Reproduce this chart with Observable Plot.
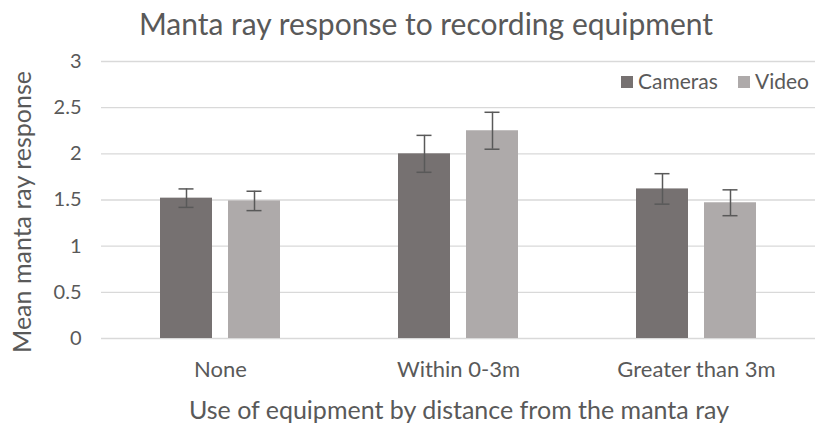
<!DOCTYPE html>
<html>
<head>
<meta charset="utf-8">
<script src="https://cdn.jsdelivr.net/npm/d3@7"></script>
<script src="https://cdn.jsdelivr.net/npm/@observablehq/plot@0.6"></script>
<style>
  html, body { margin: 0; padding: 0; background: #fff; }
  #chart { width: 816px; height: 423px; }
  svg { font-family: Lato, "Open Sans", sans-serif; }
</style>
</head>
<body>
<div id="chart"></div>
<script>
const categories = ["None", "Within 0-3m", "Greater than 3m"];
const series = ["Cameras", "Video"];
const camerasMean = [1.52, 2.00, 1.62];
const camerasErr = [0.10, 0.20, 0.165];
const videoMean = [1.49, 2.25, 1.47];
const videoErr = [0.105, 0.20, 0.14];
const yTicks = [0, 0.5, 1, 1.5, 2, 2.5, 3];
const title = "Manta ray response to recording equipment";
const xTitle = "Use of equipment by distance from the manta ray";
const yTitle = "Mean manta ray response";
const colors = ["#767171", "#AEAAAA"];

const data = [];
categories.forEach((c, i) => {
  data.push({category: c, series: "Cameras", value: camerasMean[i], err: camerasErr[i]});
  data.push({category: c, series: "Video", value: videoMean[i], err: videoErr[i]});
});

const W = 816, H = 423;
const mTop = 61, mBottom = 85, mLeft = 100, mRight = 0;

const chart = Plot.plot({
  width: W,
  height: H,
  marginTop: mTop,
  marginBottom: mBottom,
  marginLeft: mLeft,
  marginRight: mRight,
  style: {background: "#fff", color: "#595959"},
  fx: {domain: categories, padding: 0, label: null, tickSize: 0, tickPadding: 10},
  x: {domain: series, paddingInner: 0.23, paddingOuter: 0.85, axis: null},
  y: {domain: [0, 3], ticks: yTicks, tickSize: 0, tickPadding: 20, label: null,
      tickFormat: d => String(d)},
  color: {domain: series, range: colors},
  marks: [
    Plot.ruleY(yTicks, {y: d => d, stroke: "#D9D9D9", strokeWidth: 1.3}),
    Plot.barY(data, {fx: "category", x: "series", y: "value", fill: "series"}),
    Plot.ruleX(data, {fx: "category", x: "series", y1: d => d.value - d.err, y2: d => d.value + d.err,
      stroke: "#595959", strokeWidth: 1.5}),
    Plot.tickY(data, {fx: "category", x: "series", y: d => d.value - d.err, stroke: "#595959",
      strokeWidth: 1.5, insetLeft: 18.5, insetRight: 18.5}),
    Plot.tickY(data, {fx: "category", x: "series", y: d => d.value + d.err, stroke: "#595959",
      strokeWidth: 1.5, insetLeft: 18.5, insetRight: 18.5})
  ]
});

document.getElementById("chart").appendChild(chart);

const svg = d3.select(chart);

svg.selectAll("text").each(function() {
  const t = d3.select(this);
  const s = this.textContent;
  if (categories.includes(s)) {
    t.style("font-size", "22px").style("fill", "#595959");
    t.attr("y", null).attr("dy", null);
  } else if (yTicks.map(String).includes(s)) {
    t.style("font-size", "20px").style("fill", "#595959");
  }
});
svg.selectAll("text").filter(function() { return categories.includes(this.textContent); })
  .each(function() {
    const curBaseline = this.getCTM().f;
    d3.select(this).attr("y", 377 - curBaseline);
  });

svg.append("text")
  .attr("x", 426).attr("y", 35)
  .attr("text-anchor", "middle")
  .style("font-size", "30px").style("fill", "#595959")
  .text(title);
svg.append("text")
  .attr("x", 459).attr("y", 419)
  .attr("text-anchor", "middle")
  .style("font-size", "25px").style("fill", "#595959")
  .text(xTitle);
svg.append("text")
  .attr("transform", "translate(31,212) rotate(-90)")
  .attr("text-anchor", "middle")
  .style("font-size", "25px").style("fill", "#595959")
  .text(yTitle);

const legendX = [621, 738];
series.forEach((s, i) => {
  svg.append("rect").attr("x", legendX[i]).attr("y", 76).attr("width", 12).attr("height", 12)
    .attr("fill", colors[i]);
  svg.append("text").attr("x", legendX[i] + 17).attr("y", 89)
    .attr("text-anchor", "start")
    .style("font-size", "21px").style("fill", "#595959")
    .text(s);
});
</script>
</body>
</html>
